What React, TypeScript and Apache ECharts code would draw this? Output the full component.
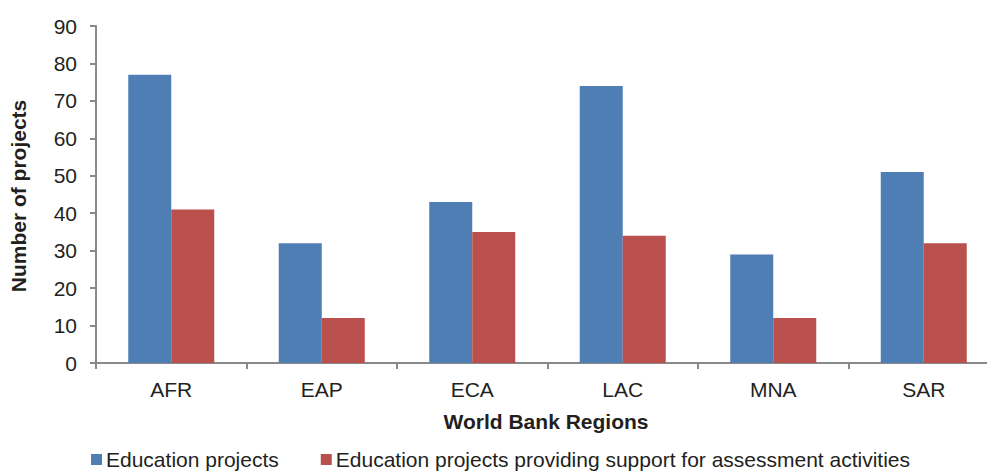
import React, { useEffect, useRef } from "react";
import * as echarts from "echarts";

// World Bank regions and project counts
const regions = ["AFR", "EAP", "ECA", "LAC", "MNA", "SAR"];
const educationProjects = [77, 32, 43, 74, 29, 51];
const assessmentProjects = [41, 12, 35, 34, 12, 32];
const seriesNames = [
  "Education projects",
  "Education projects providing support for assessment activities",
];

const FONT = "'Liberation Sans', Arial, sans-serif";
const TEXT = "#231f20";
const AXIS = "#898989";

export default function App() {
  const ref = useRef<HTMLDivElement>(null);

  useEffect(() => {
    if (!ref.current) return;
    const chart = echarts.init(ref.current, undefined, { renderer: "svg" });
    chart.setOption({
      animation: false,
      backgroundColor: "#ffffff",
      textStyle: { fontFamily: FONT, color: TEXT },
      // the plot runs past the right edge of the visible frame
      grid: { left: 96, top: 26, width: 903, height: 337, containLabel: false },
      legend: {
        left: 86,
        top: 444,
        icon: "rect",
        itemWidth: 11,
        itemHeight: 11,
        itemGap: 42,
        textStyle: { fontSize: 21, color: TEXT, fontFamily: FONT, padding: [0, 0, 0, -1] },
        data: seriesNames,
      },
      xAxis: {
        type: "category",
        data: regions,
        axisLine: { lineStyle: { color: AXIS, width: 2 } },
        axisTick: { show: true, length: 6, lineStyle: { color: AXIS, width: 2 } },
        axisLabel: { fontSize: 21, color: TEXT, margin: 16, fontFamily: FONT },
        splitLine: { show: false },
      },
      yAxis: {
        type: "value",
        min: 0,
        max: 90,
        interval: 10,
        axisLine: { show: true, lineStyle: { color: AXIS, width: 2 } },
        axisTick: { show: true, length: 6, lineStyle: { color: AXIS, width: 2 } },
        axisLabel: { fontSize: 21, color: TEXT, margin: 19, fontFamily: FONT },
        splitLine: { show: false },
      },
      graphic: [
        {
          type: "text",
          x: 18,
          y: 196,
          rotation: Math.PI / 2,
          style: {
            text: "Number of projects",
            font: `bold 21px ${FONT}`,
            fill: TEXT,
            textAlign: "center",
            textVerticalAlign: "middle",
          },
        },
        {
          type: "text",
          x: 546,
          y: 421,
          style: {
            text: "World Bank Regions",
            font: `bold 21px ${FONT}`,
            fill: TEXT,
            textAlign: "center",
            textVerticalAlign: "middle",
          },
        },
      ],
      series: [
        {
          name: seriesNames[0],
          type: "bar",
          data: educationProjects,
          barWidth: 43,
          barGap: "0%",
          itemStyle: { color: "#4f7eb5" },
        },
        {
          name: seriesNames[1],
          type: "bar",
          data: assessmentProjects,
          barWidth: 43,
          itemStyle: { color: "#ba504d" },
        },
      ],
    });
    return () => chart.dispose();
  }, []);

  return (
    <div
      style={{
        position: "fixed",
        left: 0,
        top: 0,
        width: 987,
        height: 471,
        overflow: "hidden",
        background: "#ffffff",
      }}
    >
      <div ref={ref} style={{ width: 1010, height: 471 }} />
    </div>
  );
}
